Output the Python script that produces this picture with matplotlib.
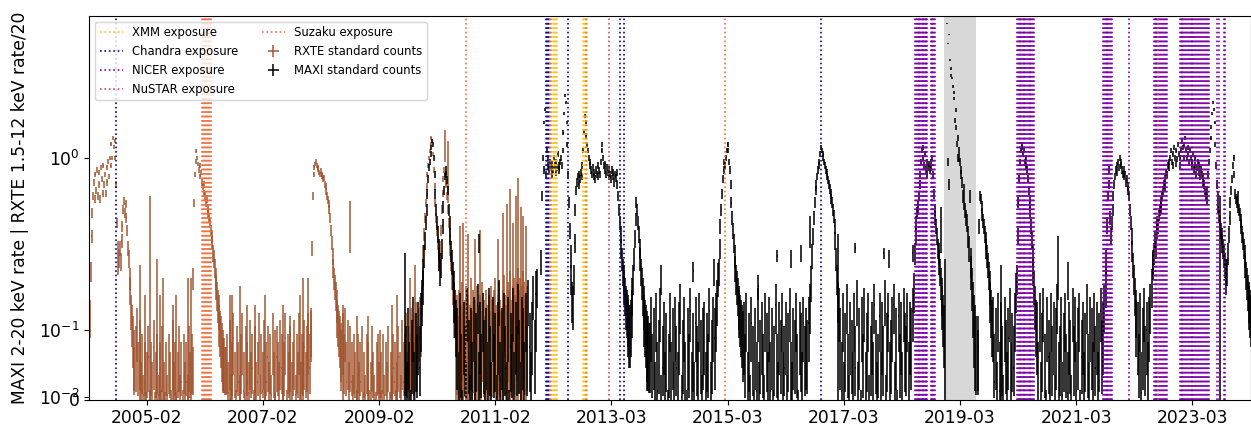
import numpy as np
import matplotlib
matplotlib.use("Agg")
import matplotlib.pyplot as plt
from matplotlib.ticker import FixedLocator, FuncFormatter
from datetime import datetime, timedelta

# times are MJD, rates are MAXI 2-20 keV rate or RXTE rate/20

# RXTE light curve, one list per stretch (start MJD, cadence in days below)
rxte_2004 = [0.06, 0.12, 0.22, 0.35, 0.48, 0.6, 0.72, 0.58, 0.8, 0.65, 0.85, 0.6, 0.82, 0.7, 0.58, 0.88,
             0.75, 0.62, 0.9, 0.7, 0.8, 0.62, 0.88, 0.72, 0.95, 0.78, 1.0, 0.9, 1.2, 1.0, 1.3, 1.15,
             1.25, 1.0, 0.7, 0.42, 0.3, 0.24, 0.26, 0.3, 0.25, 0.33, 0.4, 0.5, 0.56, 0.48, 0.54, 0.45,
             0.38, 0.3, 0.26, 0.2, 0.17, 0.13, 0.11, 0.09, 0.07, 0.05]
rxte_2005 = [0.07, 0.1, 0.05, 0.08, 0.03, 0.06, 0.02, 0.05, 0.0, 0.04, 0.07, 0.01, 0.05, 0.03, 0.08,
             0.0, 0.04, 0.06, 0.02, 0.05, 0.01, 0.07, 0.03, 0.0, 0.05, 0.02, 0.06, 0.04, 0.01, 0.08,
             0.03, 0.05, 0.0, 0.04, 0.07, 0.02, 0.05, 0.01, 0.06, 0.03, 0.05, 0.02, 0.07, 0.04, 0.06]
rxte_2006 = [0.05, 0.2, 0.55, 0.8, 0.95, 1.1, 1.0, 0.92, 0.85, 0.9, 0.78, 0.82, 0.72, 0.68, 0.7, 0.62,
             0.6, 0.55, 0.58, 0.5, 0.48, 0.45, 0.42, 0.38, 0.35, 0.32, 0.28, 0.26, 0.23, 0.2, 0.18,
             0.16, 0.14, 0.13, 0.11, 0.1, 0.09, 0.08, 0.07, 0.06, 0.06, 0.05, 0.05]
rxte_2007 = [0.06, 0.03, 0.08, 0.02, 0.05, 0.09, 0.04, 0.01, 0.07, 0.05, 0.02, 0.06, 0.09, 0.04, 0.0,
             0.07, 0.05, 0.03, 0.08, 0.04, 0.06, 0.01, 0.07, 0.03, 0.05, 0.09, 0.02, 0.06, 0.04, 0.08,
             0.01, 0.05, 0.07, 0.03, 0.06, 0.02, 0.09, 0.04, 0.0, 0.07, 0.05, 0.03, 0.08, 0.06, 0.02,
             0.05, 0.09, 0.01, 0.06, 0.04, 0.07, 0.03, 0.05, 0.08, 0.02, 0.06, 0.04, 0.09, 0.03, 0.06,
             0.05, 0.08, 0.04, 0.07, 0.09, 0.06, 0.1]
rxte_2008 = [0.1, 0.3, 0.6, 0.8, 0.88, 0.92, 0.95, 0.9, 0.86, 0.88, 0.82, 0.8, 0.84, 0.78, 0.8, 0.75,
             0.76, 0.7, 0.68, 0.64, 0.6, 0.57, 0.54, 0.5, 0.45, 0.38, 0.32, 0.27, 0.23, 0.2, 0.18, 0.16,
             0.14, 0.12, 0.11, 0.1, 0.09, 0.08, 0.07]
rxte_2009 = [0.09, 0.06, 0.1, 0.05, 0.08, 0.03, 0.07, 0.05, 0.02, 0.06, 0.04, 0.01, 0.06, 0.03, 0.05,
             0.07, 0.0, 0.04, 0.02, 0.06, 0.05, 0.01, 0.03, 0.07, 0.04, 0.02, 0.0, 0.05, 0.06, 0.03,
             0.04, 0.01, 0.06, 0.02, 0.05, 0.03, 0.07, 0.0, 0.04, 0.02, 0.06, 0.05, 0.01, 0.03, 0.07,
             0.04, 0.02, 0.08, 0.05, 0.06, 0.09, 0.04, 0.07, 0.06, 0.1, 0.07, 0.05, 0.09, 0.11, 0.07,
             0.1, 0.12]
rxte_2010 = [0.1, 0.15, 0.2, 0.28, 0.36, 0.45, 0.55, 0.68, 0.8, 0.9, 1.0, 1.1, 1.2, 1.3, 1.25, 1.05,
             0.85, 0.68, 0.55, 0.45, 0.38, 0.32, 0.28, 0.26, 0.3, 0.38, 0.5, 0.62, 0.75, 0.85, 0.8,
             0.72, 0.7, 0.6, 0.5, 0.42, 0.35, 0.3, 0.25, 0.2, 0.17, 0.14, 0.12]
rxte_2011 = [0.06, 0.09, 0.05, 0.1, 0.07, 0.12, 0.06, 0.08, 0.11, 0.05, 0.09, 0.07, 0.13, 0.06, 0.1,
             0.08, 0.05, 0.11, 0.07, 0.09, 0.06, 0.12, 0.08, 0.05, 0.1, 0.07, 0.09, 0.06, 0.11, 0.08,
             0.1, 0.13, 0.07, 0.09, 0.12, 0.08, 0.06, 0.1, 0.14, 0.09, 0.07, 0.12, 0.1, 0.15, 0.08,
             0.11, 0.13, 0.09, 0.12, 0.16, 0.1, 0.13, 0.11, 0.15, 0.12, 0.09, 0.11]

# single long RXTE error bars sticking out of the quiescent noise
rxte_spike_t = [53379, 53411, 53442, 53486, 53505, 53524, 53587, 53606, 53682, 53701, 53947, 53960,
                54010, 54055, 54105, 54168, 54231, 54282, 54326, 54389, 54408, 54440, 54660, 54704,
                54748, 54818, 54894, 54970, 55002, 55084, 55115, 55304, 55323, 55398, 55417, 55449,
                55493, 55524, 55638, 55670, 55695, 55714, 55733, 55752, 55764, 55783, 55796, 55815]
rxte_spike_rate = [0.12, 0.08, 0.3, 0.13, 0.08, 0.1, 0.07, 0.08, 0.1, 0.1, 0.08, 0.08, 0.09, 0.07, 0.07,
                   0.08, 0.05, 0.07, 0.06, 0.08, 0.1, 0.1, 0.07, 0.42, 0.06, 0.06, 0.05, 0.07, 0.08, 0.1,
                   0.12, 1.2, 0.9, 0.2, 0.21, 0.18, 0.17, 0.19, 0.17, 0.24, 0.27, 0.33, 0.21, 0.3, 0.38,
                   0.26, 0.23, 0.2]
rxte_spike_err = [0.12, 0.08, 0.3, 0.13, 0.08, 0.1, 0.07, 0.08, 0.1, 0.1, 0.08, 0.08, 0.09, 0.07, 0.07,
                  0.08, 0.05, 0.07, 0.06, 0.08, 0.1, 0.1, 0.07, 0.14, 0.06, 0.06, 0.05, 0.07, 0.08, 0.1,
                  0.12, 0.25, 0.35, 0.2, 0.21, 0.18, 0.17, 0.19, 0.17, 0.24, 0.27, 0.33, 0.21, 0.3, 0.38,
                  0.26, 0.23, 0.2]

# MAXI light curve
maxi_2009 = [0.06, 0.02, 0.09, 0.04, 0.0, 0.07, 0.11, 0.03, 0.08, 0.05, 0.1, 0.06, 0.12, 0.15]
maxi_2010 = [0.18, 0.22, 0.27, 0.33, 0.42, 0.5, 0.62, 0.75, 0.88, 0.95, 1.05, 1.15, 1.25, 1.2, 1.0, 0.8,
             0.62, 0.5, 0.42, 0.36, 0.3, 0.26, 0.22, 0.24, 0.3, 0.4, 0.52, 0.65, 0.78, 0.85, 0.8, 0.74,
             0.65, 0.5, 0.42, 0.35, 0.29, 0.25, 0.21, 0.18, 0.15, 0.13, 0.11]
maxi_2011 = [0.09, 0.03, 0.12, 0.05, 0.0, 0.1, 0.06, 0.02, 0.13, 0.07, 0.01, 0.09, 0.04, 0.11, 0.02,
             0.08, 0.14, 0.03, 0.1, 0.05, 0.12, 0.07, 0.0, 0.09, 0.04, 0.13, 0.06, 0.02, 0.11, 0.05,
             0.08, 0.01, 0.1, 0.15, 0.04, 0.09, 0.03, 0.12, 0.06, 0.02, 0.11, 0.0, 0.08, 0.05, 0.13,
             0.03, 0.1, 0.06, 0.14, 0.07, 0.02, 0.11, 0.09, 0.04, 0.12, 0.06, 0.15, 0.08, 0.03, 0.1,
             0.16, 0.07, 0.12, 0.18]
maxi_2012 = [0.25, 0.6, 1.0, 1.6, 0.85, 1.9, 0.8, 1.1, 0.9, 1.0, 0.85, 0.95, 0.88, 0.8, 0.92, 0.85,
             1.0, 0.9, 0.82, 0.95, 0.88, 1.05, 0.9, 0.85, 0.95, 1.0, 0.9, 1.1, 1.4, 1.8, 2.3, 2.1,
             1.6, 1.2, 0.8, 0.55, 0.38, 0.27, 0.2, 0.15, 0.14, 0.2, 0.32, 0.5, 0.65, 0.72, 0.78, 0.7,
             0.8, 0.75, 0.82, 0.78, 0.9, 1.1, 1.4, 1.75, 1.6, 1.35, 1.2, 1.1, 1.0, 0.95, 0.9, 0.85,
             0.8, 0.88, 0.78, 0.82, 0.75, 0.85, 0.8, 0.9, 0.78, 0.84, 0.8, 0.95, 1.1, 1.2, 1.0, 0.9,
             0.85, 0.92, 0.8, 0.88, 0.82, 0.78, 0.85, 0.8, 0.75, 0.85, 0.78, 0.82, 0.72, 0.8, 0.76,
             0.82, 0.7, 0.6, 0.5, 0.42, 0.36, 0.3, 0.26, 0.22, 0.2, 0.18, 0.16, 0.14, 0.13, 0.12,
             0.11, 0.1, 0.1, 0.11, 0.13, 0.16, 0.2, 0.26, 0.34, 0.44, 0.55, 0.5, 0.42, 0.36, 0.3,
             0.26, 0.22, 0.19, 0.16, 0.14, 0.12, 0.11, 0.1, 0.09, 0.08, 0.08, 0.07, 0.07]
maxi_2014 = [0.11, 0.05, 0.09, 0.02, 0.12, 0.04, 0.07, 0.13, 0.01, 0.06, 0.1, 0.03, 0.08, 0.0, 0.05,
             0.12, 0.04, 0.09, 0.02, 0.11, 0.06, 0.03, 0.1, 0.14, 0.01, 0.07, 0.11, 0.04, 0.0, 0.09,
             0.05, 0.13, 0.03, 0.08, 0.02, 0.11, 0.06, 0.04, 0.12, 0.07, 0.01, 0.09, 0.1, 0.03, 0.08,
             0.05, 0.13, 0.02, 0.07, 0.11, 0.09, 0.12, 0.15, 0.2]
maxi_2015 = [0.22, 0.3, 0.4, 0.5, 0.62, 0.75, 0.85, 0.95, 0.9, 1.0, 1.1, 1.2, 1.1, 0.95, 0.85, 0.7,
             0.55, 0.45, 0.38, 0.32, 0.27, 0.23, 0.2, 0.18, 0.16, 0.14, 0.13, 0.12, 0.11, 0.1, 0.09]
maxi_2015q = [0.1, 0.05, 0.12, 0.03, 0.08, 0.01, 0.11, 0.06, 0.0, 0.09, 0.04, 0.13, 0.02, 0.07, 0.1,
              0.05, 0.01, 0.12, 0.08, 0.03, 0.11, 0.04, 0.09, 0.0, 0.06, 0.14, 0.05, 0.02, 0.1, 0.07,
              0.12, 0.03, 0.06, 0.1, 0.01, 0.08, 0.13, 0.04, 0.02, 0.09, 0.07, 0.12, 0.05, 0.0, 0.1,
              0.08, 0.03, 0.11, 0.06, 0.09, 0.07, 0.11, 0.14, 0.19, 0.27]
maxi_2016 = [0.35, 0.45, 0.55, 0.65, 0.7, 0.78, 0.85, 0.9, 0.95, 1.05, 1.15, 1.1, 1.0, 1.05, 0.95, 0.9,
             0.85, 0.82, 0.78, 0.74, 0.7, 0.66, 0.62, 0.58, 0.55, 0.5, 0.46, 0.4, 0.33, 0.26, 0.2, 0.15]
maxi_2017 = [0.13, 0.09, 0.04, 0.12, 0.02, 0.08, 0.14, 0.05, 0.01, 0.1, 0.07, 0.03, 0.12, 0.06, 0.15,
             0.02, 0.09, 0.0, 0.11, 0.05, 0.13, 0.03, 0.08, 0.12, 0.01, 0.06, 0.1, 0.04, 0.14, 0.07,
             0.02, 0.05, 0.12, 0.03, 0.1, 0.06, 0.15, 0.01, 0.08, 0.12, 0.04, 0.07, 0.11, 0.14, 0.02,
             0.09, 0.0, 0.12, 0.05, 0.1, 0.03, 0.13, 0.08, 0.06, 0.12, 0.04, 0.1, 0.09, 0.13, 0.17]
maxi_2018 = [0.28, 0.35, 0.42, 0.48, 0.52, 0.6, 0.7, 0.8, 0.95, 1.1, 1.0, 1.15, 0.9, 1.05, 0.85, 0.95,
             0.8, 0.88, 0.92, 0.85, 0.95, 0.88, 1.0, 0.8, 0.62, 0.5, 0.45, 0.4, 0.35, 0.3, 0.28, 0.25,
             0.22, 0.19, 0.16, 0.14, 0.12, 0.1]
# sparse points inside the shaded 2019 window
maxi_2019_t = [58472, 58475, 58478, 58481, 58484, 58490, 58494, 58497, 58503, 58510, 58513, 58516,
               58522, 58525, 58528, 58535, 58538, 58541, 58544, 58547, 58553, 58557, 58560, 58566,
               58572, 58576, 58579, 58585, 58591, 58598, 58604, 58610, 58617, 58620, 58623, 58629,
               58636, 58642, 58648, 58655]
maxi_2019_rate = [6.0, 0.95, 4.6, 5.2, 0.7, 3.7, 3.0, 3.3, 2.9, 2.6, 2.2, 2.4, 1.65, 1.9, 1.5, 1.2,
                  1.0, 1.3, 1.1, 1.0, 0.95, 0.8, 0.85, 0.72, 0.6, 0.55, 0.65, 0.5, 0.45, 0.42, 0.35,
                  0.3, 0.6, 0.25, 0.22, 0.18, 0.14, 0.11, 0.09, 0.07]
maxi_2019 = [0.06, 0.08, 0.4, 0.6, 0.58, 0.52, 0.47, 0.43, 0.4, 0.36, 0.33, 0.3, 0.27, 0.24, 0.21,
             0.18, 0.15, 0.13, 0.11]
maxi_2019q = [0.11, 0.05, 0.09, 0.02, 0.12, 0.04, 0.1, 0.06, 0.01, 0.11, 0.07, 0.03, 0.09, 0.13, 0.04,
              0.08, 0.06, 0.12, 0.17]
maxi_2020 = [0.2, 0.35, 0.55, 0.75, 0.95, 1.1, 1.2, 1.15, 1.05, 1.1, 0.95, 1.0, 0.9, 0.85, 0.75, 0.65,
             0.55, 0.48, 0.4, 0.33, 0.27, 0.22, 0.18, 0.14, 0.11]
maxi_2020q = [0.1, 0.04, 0.12, 0.02, 0.08, 0.13, 0.05, 0.0, 0.11, 0.07, 0.03, 0.12, 0.06, 0.1, 0.01,
              0.09, 0.14, 0.04, 0.06, 0.11, 0.02, 0.08, 0.12, 0.05, 0.03, 0.1, 0.07, 0.01, 0.13, 0.06,
              0.11, 0.04, 0.09, 0.12, 0.0, 0.07, 0.1, 0.03, 0.08, 0.14, 0.05, 0.02, 0.11, 0.09, 0.04,
              0.12, 0.06, 0.1, 0.03, 0.08, 0.13, 0.07, 0.1, 0.14, 0.18]
maxi_2021 = [0.25, 0.4, 0.6, 0.85, 0.7, 0.45, 0.35, 0.42, 0.5, 0.6, 0.7, 0.78, 0.85, 0.9, 0.82, 0.95,
             0.88, 1.0, 0.9, 0.95, 0.85, 0.8, 0.85, 0.78, 0.8, 0.72, 0.75, 0.68, 0.65, 0.6, 0.5, 0.42,
             0.35, 0.29, 0.24, 0.2, 0.16, 0.13, 0.11]
maxi_2021q = [0.1, 0.05, 0.12, 0.03, 0.09, 0.13, 0.06, 0.1, 0.04, 0.11, 0.14, 0.18, 0.24]
maxi_2022 = [0.25, 0.28, 0.33, 0.3, 0.38, 0.42, 0.4, 0.47, 0.5, 0.55, 0.52, 0.6, 0.65, 0.7, 0.68, 0.75,
             0.82, 0.8, 0.9, 0.95, 0.88, 1.0, 1.1, 0.95, 1.05, 0.9, 1.15, 1.0, 0.92, 1.1, 0.98, 1.2,
             1.05, 0.9, 1.0, 1.1, 1.25, 1.15, 1.0, 1.2, 1.3, 1.1, 1.0, 1.15, 1.05, 0.95, 1.1, 1.0,
             0.9, 0.95, 1.05, 0.85, 0.9, 1.0, 0.8, 0.88, 0.95, 0.82, 0.9, 0.78, 0.85, 0.8, 0.72, 0.78,
             0.7, 0.65, 0.6, 0.58, 0.65, 0.8, 0.95, 1.1, 1.3, 1.5, 1.8, 2.1, 1.9, 1.6, 1.2, 0.9, 0.7,
             0.6, 0.52, 0.46, 0.42, 0.38, 0.35, 0.32, 0.3, 0.27, 0.24, 0.22, 0.2, 0.22, 0.28, 0.36,
             0.45, 0.55, 0.65, 0.75, 0.9, 1.0, 0.8, 0.62, 0.58, 0.55, 0.6, 0.52, 0.5, 0.47, 0.43, 0.4,
             0.36, 0.33, 0.3, 0.27, 0.24, 0.21, 0.19, 0.17, 0.15, 0.14, 0.13, 0.12]

maxi_spike_t = [55052, 55517, 55877, 56665, 56870, 57000, 57280, 57400, 57484, 57547, 57604, 57785,
                57892, 58069, 58101, 58252, 58430, 58459, 58811, 59172, 59235, 60194]
maxi_spike_rate = [0.14, 0.32, 0.19, 0.2, 0.22, 0.22, 0.18, 0.27, 0.26, 0.28, 0.38, 0.18, 0.3, 0.28,
                   0.26, 0.28, 0.4, 0.13, 0.12, 0.25, 0.2, 0.3]
maxi_spike_err = [0.14, 0.04, 0.03, 0.04, 0.03, 0.04, 0.03, 0.02, 0.03, 0.03, 0.08, 0.18, 0.02, 0.02,
                  0.03, 0.03, 0.12, 0.13, 0.12, 0.1, 0.05, 0.3]

# observation dates (MJD)
xmm_mjd = [55983, 55990, 55997, 56004, 56011, 56173, 56180, 56187, 56194, 56201]
chandra_mjd = [53225, 55938, 55944, 55950, 55957, 56078, 56404, 56435, 57677]
nicer_2018 = [58270, 58275, 58280, 58285, 58290, 58295, 58300, 58305, 58310, 58315, 58320, 58325,
              58330, 58335, 58340, 58346, 58367, 58372, 58377, 58382, 58387, 58392]
nicer_2020 = [58911, 58916, 58921, 58927, 58932, 58937, 58943, 58948, 58953, 58958, 58964, 58969,
              58974, 58980, 58985, 58990, 58996, 59001, 59006, 59011, 59016]
nicer_2021 = [59454, 59459, 59465, 59470, 59476, 59481, 59487, 59492, 59498, 59504, 59510, 59616]
nicer_2022 = [59774, 59779, 59785, 59790, 59796, 59802, 59808, 59814, 59820, 59826, 59832, 59838,
              59844, 59850, 59856]
nicer_2023 = [59942, 59946, 59950, 59955, 59960, 59965, 59970, 59976, 59982, 59988, 59994, 60000,
              60006, 60012, 60018, 60024, 60030, 60036, 60042, 60048, 60054, 60060, 60066, 60072,
              60078, 60084, 60090, 60096, 60102, 60108, 60114, 60120, 60171, 60185, 60217, 60225]
nustar_mjd = [56340, 59801]
suzaku_mjd = [53772, 53778, 53784, 53790, 53796, 53802, 53808, 53814, 53820, 53825, 55434, 55966,
              55974, 56190, 57071]

gap_start, gap_end = 58448, 58653
tick_dates = ["2005-02-20", "2007-02-23", "2009-02-25", "2011-02-28", "2013-03-02",
              "2015-03-05", "2017-03-07", "2019-03-10", "2021-03-12", "2023-03-15"]

MJD0 = datetime(1858, 11, 17)


def to_mjd(s):
    return (datetime.strptime(s, "%Y-%m-%d") - MJD0).days


def mjd_label(m, pos=None):
    return (MJD0 + timedelta(days=float(m))).strftime("%Y-%m")


def build(segments, extra_t, extra_y, extra_e):
    t, y, e = [list(extra_t)], [list(extra_y)], [list(extra_e)]
    for t0, step, vals, err in segments:
        t.append(t0 + step * np.arange(len(vals)))
        y.append(vals)
        e.append(np.full(len(vals), err))
    return np.concatenate(t), np.concatenate(y), np.concatenate(e)


rxte_t, rxte_y, rxte_e = build(
    [(53058, 5, rxte_2004, 0.03), (53352, 8, rxte_2005, 0.035), (53710, 5, rxte_2006, 0.03),
     (53928, 8, rxte_2007, 0.035), (54459, 5, rxte_2008, 0.03), (54657, 8, rxte_2009, 0.035),
     (55152, 5, rxte_2010, 0.03), (55370, 8, rxte_2011, 0.07)],
    rxte_spike_t, rxte_spike_rate, rxte_spike_err)

maxi_t, maxi_y, maxi_e = build(
    [(55054, 8, maxi_2009, 0.045), (55162, 5, maxi_2010, 0.04), (55380, 8, maxi_2011, 0.045),
     (55910, 5, maxi_2012, 0.04), (56603, 8, maxi_2014, 0.045), (57030, 5, maxi_2015, 0.04),
     (57188, 8, maxi_2015q, 0.045), (57625, 5, maxi_2016, 0.04), (57788, 8, maxi_2017, 0.045),
     (58266, 5, maxi_2018, 0.04), (58663, 5, maxi_2019, 0.04), (58761, 8, maxi_2019q, 0.045),
     (58910, 5, maxi_2020, 0.04), (59038, 8, maxi_2020q, 0.045), (59474, 5, maxi_2021, 0.04),
     (59672, 8, maxi_2021q, 0.045), (59772, 5, maxi_2022, 0.04)],
    maxi_spike_t + maxi_2019_t, maxi_spike_rate + maxi_2019_rate,
    maxi_spike_err + [0.05] * len(maxi_2019_t))

fig = plt.figure(figsize=(12.51, 4.28), dpi=100)
ax = fig.add_axes([89 / 1251, 28.5 / 428, 1161.5 / 1251, 383.8 / 428])

ax.axvspan(gap_start, gap_end, color="grey", alpha=0.3, lw=0, zorder=0)

ax.errorbar(rxte_t, rxte_y, yerr=rxte_e, xerr=1.0, fmt="none", ecolor="sienna",
            elinewidth=1.25, alpha=0.85, label="RXTE standard counts")
ax.errorbar(maxi_t, maxi_y, yerr=maxi_e, xerr=0.5, fmt="none", ecolor="k",
            elinewidth=1.25, alpha=0.9, label="MAXI standard counts")

exposures = [("XMM exposure", xmm_mjd, "#fcc419"),
             ("Chandra exposure", chandra_mjd, "#0d0887"),
             ("NICER exposure", nicer_2018 + nicer_2020 + nicer_2021 + nicer_2022 + nicer_2023, "#7e03a8"),
             ("NuSTAR exposure", nustar_mjd, "#cc4778"),
             ("Suzaku exposure", suzaku_mjd, "#f2703f")]
for name, dates, col in exposures:
    for i, d in enumerate(dates):
        ax.axvline(d, color=col, ls=":", lw=1.2, label=name if i == 0 else None)

ax.set_yscale("symlog", linthresh=0.045, linscale=0.05)
ax.set_ylim(0, 6.67)
ax.set_xlim(53057, 60384)

ax.xaxis.set_major_locator(FixedLocator([to_mjd(d) for d in tick_dates]))
ax.xaxis.set_major_formatter(FuncFormatter(mjd_label))
ax.tick_params(axis="both", labelsize=12.3)
ax.set_ylabel("MAXI 2-20 keV rate | RXTE 1.5-12 keV rate/20", fontsize=12.3, labelpad=7)

ax.legend(loc="upper left", ncol=2, fontsize=8.4)

fig.savefig("out.png", dpi=100)
